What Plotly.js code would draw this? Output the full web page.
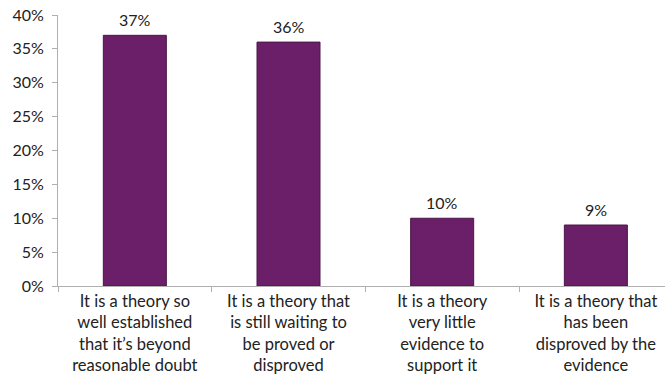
<!DOCTYPE html>
<html><head><meta charset="utf-8">
<script src="https://cdn.plot.ly/plotly-3.0.1.min.js"></script>
<style>html,body{margin:0;padding:0;background:#fff}#chart{width:665px;height:385px}</style>
</head><body><div id="chart"></div>
<script>
const categories = [
  "It is a theory so<br>well established<br>that it’s beyond<br>reasonable doubt",
  "It is a theory that<br>is still waiting to<br>be proved or<br>disproved",
  "It is a theory<br>very little<br>evidence to<br>support it",
  "It is a theory that<br>has been<br>disproved by the<br>evidence"
];
const values = [37, 36, 10, 9];
const yTicks = [0, 5, 10, 15, 20, 25, 30, 35, 40];

const font = "Lato, Open Sans, sans-serif";
Plotly.newPlot('chart', [{
  type: 'bar',
  x: categories,
  y: values,
  width: 0.41,
  marker: {color: '#6a1f68', line: {color: '#4a1646', width: 1}},
  hoverinfo: 'none'
}], {
  width: 665, height: 385,
  margin: {l: 58, r: 0, t: 15, b: 99},
  paper_bgcolor: '#fff', plot_bgcolor: '#fff',
  showlegend: false,
  font: {family: font, size: 16, color: '#222'},
  annotations: values.map((v, i) => ({
    x: categories[i], y: v, xref: 'x', yref: 'y',
    text: v + '%', showarrow: false, yanchor: 'bottom', yshift: 4,
    font: {family: font, size: 16, color: '#222'}
  })),
  xaxis: {
    type: 'category', range: [-0.5, 3.45],
    showline: true, linecolor: '#b0b0b0', linewidth: 1,
    ticks: 'outside', tickson: 'boundaries', ticklen: 5, tickcolor: '#b0b0b0',
    tickfont: {family: font, size: 16.5, color: '#222'},
    showgrid: false, zeroline: false, automargin: false
  },
  yaxis: {
    range: [0, 40], tickvals: yTicks, ticktext: yTicks.map(v => v + '%'),
    showline: true, linecolor: '#b0b0b0', linewidth: 1,
    ticks: 'outside', ticklen: 5, tickcolor: '#b0b0b0',
    ticklabelstandoff: 5,
    tickfont: {family: font, size: 16, color: '#222'},
    showgrid: false, zeroline: false, automargin: false
  }
}, {staticPlot: true});
</script></body></html>
